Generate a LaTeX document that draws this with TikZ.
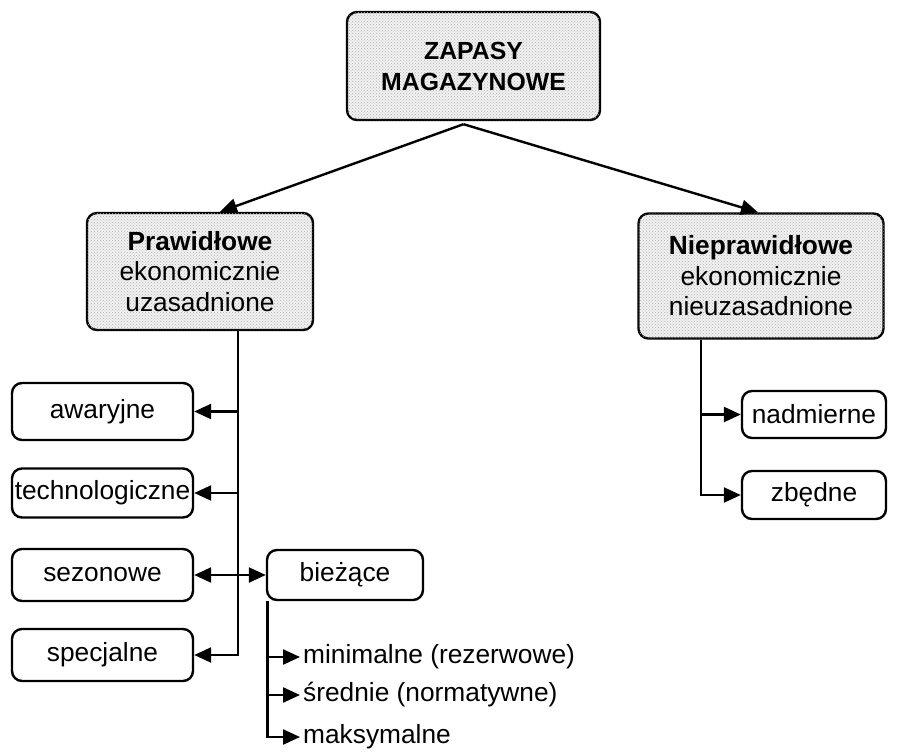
\documentclass[tikz,border=0pt]{standalone}
\usepackage{fontspec}
\setmainfont{Liberation Sans}
\usetikzlibrary{arrows.meta,patterns,calc}
\newcommand{\txtfont}{\fontsize{26.3}{30.5}\selectfont}
\newcommand{\topfont}{\fontsize{24.8}{31}\selectfont\bfseries}
\begin{document}
\begin{tikzpicture}[x=1pt,y=-1pt,
  box/.style={draw, line width=2.4pt, rounded corners=10pt, inner sep=0pt, align=center, font=\txtfont},
  shaded/.style={box, fill=gray!11, postaction={pattern=crosshatch dots, pattern color=gray!60}},
  conn/.style={line width=2.4pt},
  arr/.style={conn, -{Triangle[length=17pt,width=15pt]}},
  darr/.style={conn, {Triangle[length=17pt,width=15pt]}-{Triangle[length=17pt,width=15pt]}},
  item/.style={anchor=west, inner sep=0pt, inner xsep=3pt, font=\txtfont}
]
\useasboundingbox (0,0) rectangle (897,752);
\fill[white] (0,0) rectangle (897,752);

% main boxes
\node[shaded, minimum width=253pt, minimum height=108pt, font=\topfont] (top) at (473.5,66) {ZAPASY\\MAGAZYNOWE};
\node[shaded, minimum width=226pt, minimum height=117pt] (praw) at (200,271.5) {\textbf{Prawidłowe}\\ekonomicznie\\uzasadnione};
\node[shaded, minimum width=245pt, minimum height=125pt] (niep) at (761,276) {\textbf{Nieprawidłowe}\\ekonomicznie\\nieuzasadnione};

% left column
\node[box, minimum width=181pt, minimum height=57pt] (awa) at (102.5,411.5) {awaryjne};
\node[box, minimum width=181pt, minimum height=49pt] (tech) at (102.5,493) {technologiczne};
\node[box, minimum width=181pt, minimum height=52pt] (sez) at (102.5,575) {sezonowe};
\node[box, minimum width=181pt, minimum height=52pt] (spec) at (102.5,655) {specjalne};
\node[box, minimum width=156pt, minimum height=50pt] (biez) at (345,575) {bieżące};

% right column
\node[box, minimum width=144pt, minimum height=47pt] (nad) at (814,414.5) {nadmierne};
\node[box, minimum width=144pt, minimum height=48pt] (zbe) at (814,495) {zbędne};

% sub items of biezace
\node[item] (mini) at (300,657) {minimalne (rezerwowe)};
\node[item] (sred) at (300,695) {średnie (normatywne)};
\node[item] (maks) at (300,737) {maksymalne};

% connectors from top
\coordinate (apex) at ([xshift=-10pt,yshift=-3pt]top.south);
\draw[arr] (apex) -- ([xshift=20pt]praw.north);
\draw[arr] (apex) -- ([xshift=-3pt]niep.north);

% left trunk
\coordinate (ltop) at ([xshift=38pt]praw.south);
\draw[arr] (ltop) |- (spec.east);
\draw[arr] (ltop |- awa.east) -- (awa.east);
\draw[arr] (ltop |- tech.east) -- (tech.east);
\draw[darr] (sez.east) -- (biez.west);

% biezace trunk
\coordinate (btop) at ([xshift=1.5pt]biez.south west);
\draw[arr] (btop) |- (maks.west);
\draw[arr] (btop |- mini.west) -- (mini.west);
\draw[arr] (btop |- sred.west) -- (sred.west);

% right trunk
\coordinate (rtop) at ([xshift=-60pt]niep.south);
\draw[arr] (rtop) |- (zbe.west);
\draw[arr] (rtop |- nad.west) -- (nad.west);
\end{tikzpicture}
\end{document}
